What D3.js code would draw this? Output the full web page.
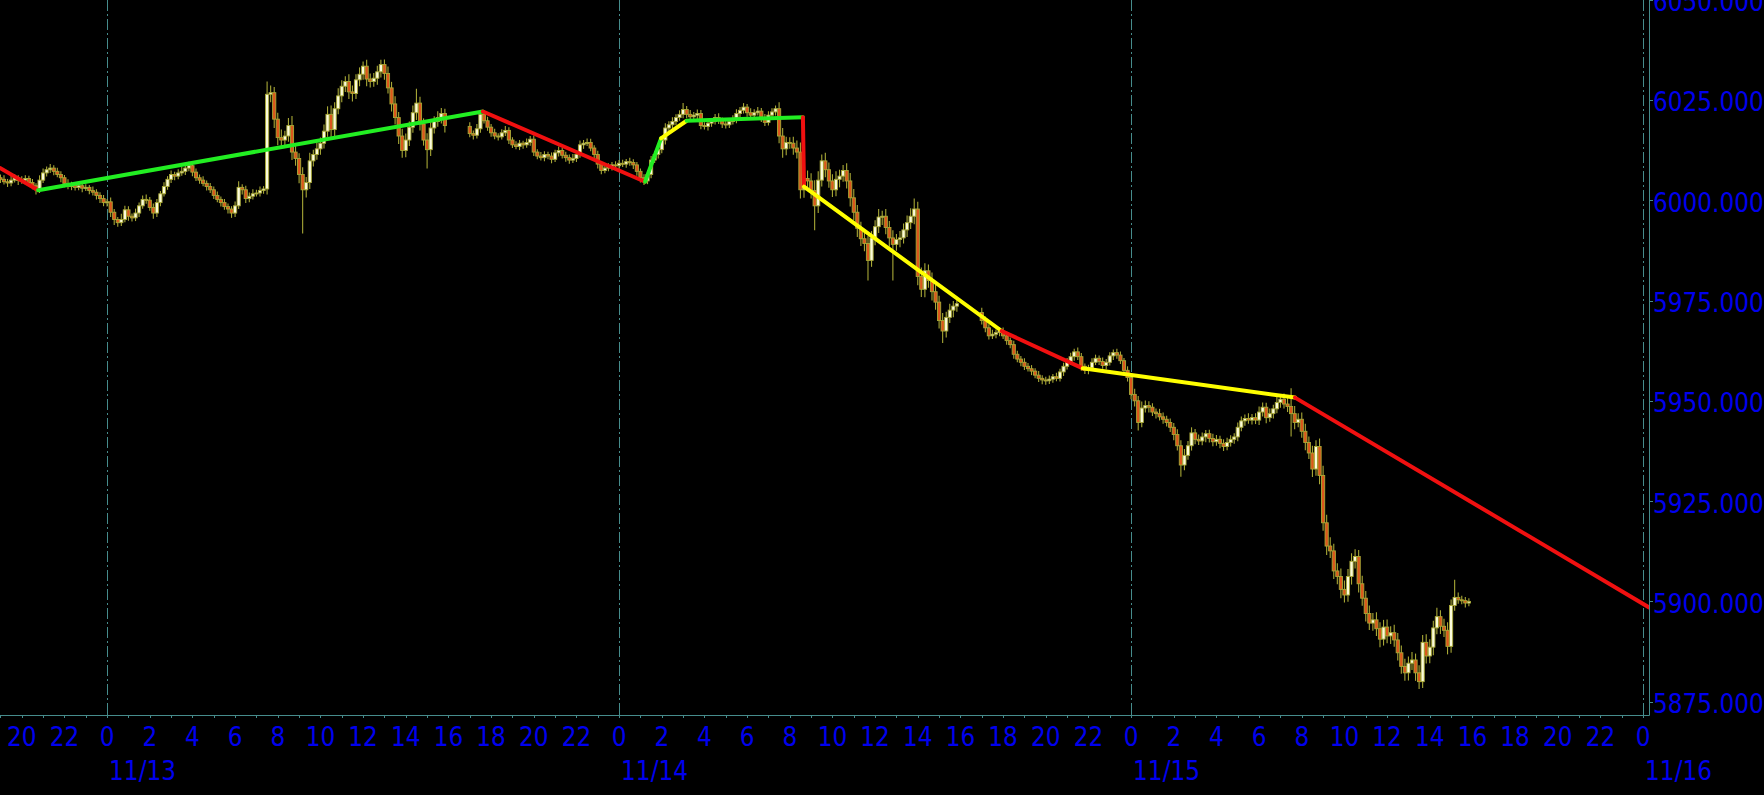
<!DOCTYPE html>
<html><head><meta charset="utf-8">
<script src="https://cdn.jsdelivr.net/npm/d3@7"></script>
<style>html,body{margin:0;padding:0;background:#000;overflow:hidden}</style>
</head><body>
<svg id="c" width="1764" height="795"></svg>
<script>
// ---- DATA ----
const sessionStarts = ["2024-11-12T19:00:00Z", "2024-11-13T17:00:00Z", "2024-11-14T17:00:00Z"];
const sessionFirstOpen = [6005.6, 6018.4, 5972.0];

// 10-minute closes, one row per hour
const close1 = [
6005.2,6004.6,6004.3,6005.0,6005.6,6004.9,
6005.0,6005.4,6004.4,6003.6,6002.6,6005.0,
6006.8,6007.6,6008.0,6007.2,6006.4,6005.6,
6004.2,6003.4,6003.8,6003.2,6003.6,6003.0,
6003.2,6002.4,6002.0,6001.2,6000.4,5999.4,
5999.6,5997.0,5995.2,5994.4,5995.2,5997.6,
5996.0,5995.6,5996.8,5998.6,6000.2,6000.0,
5998.2,5996.8,5999.4,6001.6,6003.4,6005.2,
6006.4,6006.0,6006.8,6007.2,6008.0,6008.6,
6007.0,6005.6,6005.0,6004.2,6003.4,6002.6,
6001.2,6000.2,5999.4,5998.4,5997.8,5996.8,
5998.6,6003.2,6002.6,6000.4,6001.0,6001.6,
6001.8,6002.4,6002.8,6026.4,6026.8,6020.2,
6015.6,6015.0,6016.0,6018.6,6012.0,6010.4,
6006.4,6002.6,6004.4,6009.8,6011.4,6012.8,
6014.2,6017.2,6021.4,6017.6,6022.8,6026.0,
6028.4,6029.6,6027.0,6026.6,6030.0,6031.4,
6033.4,6030.2,6029.6,6030.4,6032.0,6033.8,
6031.6,6028.0,6024.0,6020.6,6016.0,6012.4,
6015.0,6018.2,6021.8,6024.2,6019.0,6015.0,
6012.6,6018.0,6019.6,6020.6,6021.6,6018.6];
const upWick1 = [
.8,1.0,.7,1.1,.9,.6, 1.0,.8,.7,.9,.6,1.2, 1.1,.8,1.0,.7,.9,.8, .7,1.0,.8,.6,.9,.7,
.8,.6,1.0,.7,.8,.9, .7,1.1,.8,.6,1.4,1.0, .9,.7,1.1,.8,1.0,1.2, .8,1.0,.9,.7,1.1,.8,
1.0,.7,.9,1.1,.8,1.0, .7,.9,.8,1.0,.7,.9, .8,1.0,.7,.9,.8,.7, 1.1,1.5,.8,1.0,.9,1.1,
.8,1.0,.7,3.2,1.8,1.4, 1.6,2.0,1.3,1.9,2.4,1.5, 1.3,1.8,1.4,2.0,1.2,1.6,
1.4,1.7,2.0,2.2,1.6,1.9, 1.5,1.3,1.8,1.6,1.4,1.7, 1.2,1.6,1.4,1.3,1.5,1.2,
1.3,1.7,1.5,1.9,1.4,1.8, 1.6,1.4,1.8,3.6,1.6,1.4, 1.7,1.5,1.3,1.6,1.4,1.2];
const downWick1 = [
.9,.7,1.0,.8,.6,1.1, .8,1.0,.7,.9,1.2,.8, .7,.9,.8,1.0,.7,1.1, 1.0,.7,.9,.8,.7,1.0,
.7,.9,.8,1.0,1.1,.9, 1.0,1.2,1.4,1.0,.8,.7, 1.1,.9,.8,1.0,.7,.9, .8,1.4,1.0,.9,.7,.8,
.9,1.0,.8,.7,.9,.8, 1.0,.8,.9,.7,1.0,.8, .9,.7,1.0,.8,1.1,1.2, 1.0,.8,1.2,1.1,.9,.8,
.7,.9,.8,1.4,2.0,2.2, 1.9,2.2,1.6,1.4,2.0,1.8, 2.2,10.9,1.9,1.6,1.4,1.3,
1.5,1.3,1.4,2.0,1.7,1.4, 1.6,1.4,1.8,2.0,1.4,1.6, 1.4,1.8,1.5,1.3,1.6,1.4,
1.6,1.4,1.9,1.7,2.0,1.8, 1.7,1.5,1.4,1.8,1.6,1.4, 4.7,1.6,1.4,1.3,1.5,1.7];

const close2 = [
6016.6,6016.2,6017.8,6021.4,6019.8,6018.2,
6016.8,6016.0,6015.8,6016.8,6017.4,6015.0,
6013.8,6013.4,6014.2,6013.8,6014.4,6015.2,
6012.0,6011.0,6010.6,6011.4,6011.0,6010.2,
6011.8,6012.4,6011.2,6010.6,6010.0,6010.4,
6011.4,6013.8,6014.2,6014.4,6013.0,6011.4,
6009.0,6007.4,6008.0,6008.4,6008.8,6008.6,
6009.2,6009.0,6009.6,6009.4,6008.8,6007.2,
6005.6,6004.8,6006.4,6010.0,6011.4,6012.6,
6015.0,6018.0,6018.8,6019.6,6020.6,6021.4,
6022.6,6021.4,6020.8,6021.2,6021.6,6018.6,
6018.4,6019.2,6019.6,6020.6,6019.8,6019.0,
6018.8,6019.6,6020.2,6021.6,6022.4,6023.2,
6021.8,6021.2,6021.8,6022.2,6020.6,6019.4,
6021.2,6022.0,6022.8,6016.0,6012.8,6014.4,
6014.2,6013.0,6012.0,6002.6,6005.4,6004.8,
6002.4,5998.6,6005.0,6009.8,6007.6,6004.8,
6002.6,6005.2,6006.0,6007.4,6004.8,6000.6,
5997.0,5993.0,5990.4,5989.2,5985.0,5990.6,
5993.4,5995.8,5996.0,5993.2,5990.6,5989.0,
5990.2,5990.6,5992.6,5994.4,5996.0,5997.8,
5981.0,5977.8,5982.4,5980.0,5977.2,5974.6,
5970.0,5967.4,5970.8,5972.6,5973.6,5974.2];
const upWick2 = [
1.0,.8,1.2,1.1,.9,1.0, .8,1.0,.7,.9,1.1,.8, .7,.9,.8,.6,1.0,.8, .9,.7,1.0,.8,.7,.9,
.8,1.0,.7,.9,.8,1.1, .7,1.1,.8,1.0,.9,.7, .9,.7,1.0,.8,.7,.9, .8,.9,.7,1.0,.8,.7,
.7,.9,1.1,1.0,.8,1.2, 1.0,1.2,.9,1.1,.8,1.0, 1.6,.9,1.1,.8,1.0,.9, .8,1.0,.7,.9,1.1,.8,
.9,.7,1.0,1.1,.8,1.0, .8,1.1,.9,1.0,.8,.9, 1.0,.9,.8,1.6,2.0,1.4, 1.3,1.6,1.9,2.4,1.8,2.0,
1.9,2.6,2.2,1.6,2.0,1.8, 1.7,2.0,1.6,1.4,1.8,2.0, 2.2,1.8,1.6,2.0,1.9,1.7,
1.6,2.0,1.4,1.8,1.6,1.9, 1.4,1.7,1.6,1.8,2.0,2.6, 1.8,2.2,1.9,1.6,2.0,1.7,
1.6,1.9,1.4,1.6,1.3,1.5];
const downWick2 = [
.9,1.1,.8,1.0,.7,.9, 1.0,.8,.9,.7,.8,1.0, .8,.7,.9,1.0,.7,.8, 1.0,.8,.7,.9,.8,1.0,
.7,.9,.8,1.0,.9,.7, .9,.8,1.0,.7,.8,.9, 1.1,.9,.7,.8,1.0,.7, .8,.7,.9,.8,1.0,1.1,
1.2,1.0,.8,.9,.7,1.0, .9,1.1,.8,1.0,.9,.8, 1.0,.9,1.1,.8,1.0,.9, .8,1.0,.9,.7,.8,1.0,
.9,.8,.7,1.0,.9,.8, 1.0,.8,.9,.7,1.1,.9, .8,1.0,.9,1.8,2.2,1.6, 1.4,1.7,1.6,2.2,2.0,1.9,
2.0,6.1,1.8,1.6,1.9,1.7, 1.8,1.6,2.0,1.4,1.9,2.2, 2.0,2.2,1.8,1.9,5.0,1.6,
1.8,1.6,2.0,1.7,2.2,9.0, 1.6,1.9,1.4,1.8,1.6,2.0, 2.2,1.9,2.0,1.8,2.2,1.9,
2.0,3.0,1.6,1.4,1.8,1.4];

const close3 = [
5970.0,5968.2,5966.2,5966.6,5967.0,5967.4,
5966.2,5965.0,5964.0,5961.6,5960.4,5959.6,
5958.6,5958.0,5957.4,5956.4,5955.6,5955.2,
5955.0,5955.4,5956.0,5955.6,5957.2,5958.6,
5959.8,5961.0,5962.2,5961.0,5958.6,5957.6,
5958.2,5959.6,5960.6,5959.8,5958.8,5959.6,
5961.2,5962.0,5961.4,5960.0,5957.6,5955.8,
5951.6,5950.0,5944.6,5948.2,5948.8,5948.4,
5947.2,5946.8,5946.0,5945.4,5944.6,5943.4,
5941.6,5938.8,5934.0,5936.4,5938.8,5942.0,
5940.4,5940.0,5941.0,5941.8,5940.6,5939.8,
5940.4,5939.4,5938.6,5939.6,5940.4,5941.0,
5943.4,5945.0,5945.6,5945.2,5945.8,5945.2,
5947.2,5948.4,5945.8,5946.8,5948.0,5949.6,
5950.4,5949.2,5948.6,5946.8,5944.6,5945.4,
5942.4,5939.6,5937.0,5933.0,5938.6,5931.4,
5919.6,5913.8,5912.6,5907.6,5906.2,5903.0,
5901.6,5906.2,5910.0,5911.2,5904.4,5900.8,
5897.0,5894.6,5895.4,5893.2,5890.6,5893.6,
5891.4,5892.2,5890.4,5887.2,5883.8,5882.2,
5884.6,5885.4,5882.2,5880.0,5889.8,5886.4,
5888.6,5893.4,5896.2,5893.8,5892.8,5888.8,
5899.0,5901.0,5900.4,5900.2,5899.6,5900.0];
const upWick3 = [
1.2,1.0,.9,1.1,.8,1.0, .9,1.1,.8,1.0,.9,.8, 1.0,.8,.9,.7,1.0,.8, .8,.9,.7,1.0,.8,.9,
.9,1.0,.8,1.1,.9,.7, .8,1.0,.9,.7,1.0,.8, .9,.8,1.0,.9,.7,1.0, 1.1,1.4,1.2,1.6,1.3,1.1,
1.0,.9,1.2,1.1,.9,1.0, 1.1,1.3,1.4,1.6,1.2,1.4, 1.0,1.2,1.1,.9,1.0,1.2, 1.1,.9,1.0,1.2,1.0,.9,
1.2,1.1,1.0,1.3,.9,1.1, 1.4,1.2,1.1,1.3,1.0,1.5, 1.2,1.4,1.6,4.5,1.9,1.5, 1.7,1.9,1.5,1.8,1.6,2.0,
2.4,2.0,2.2,1.8,1.9,2.0, 2.2,1.9,2.0,1.8,1.6,2.0, 1.8,2.0,1.7,1.9,1.6,1.8,
1.9,1.6,2.0,1.7,1.8,1.9, 1.7,2.0,1.6,1.9,1.8,2.0, 2.0,1.8,2.2,1.6,1.9,2.0,
1.5,4.4,1.2,1.0,.9,.8];
const downWick3 = [
1.0,1.1,.9,.8,1.0,.9, .8,1.0,.9,1.1,.8,1.0, .9,.7,1.0,.8,.9,1.1, 1.0,.8,.9,.7,.8,1.0,
.8,.9,1.0,.8,1.1,.9, 1.0,.8,.7,.9,.8,1.0, .8,1.0,.9,.8,1.1,1.0, 1.2,1.4,2.0,1.2,1.1,1.3,
1.0,1.2,.9,1.1,1.0,1.2, 1.4,1.2,2.9,1.3,1.1,1.2, 1.2,1.0,1.1,1.3,1.0,1.1, 1.0,1.2,1.1,.9,1.0,1.1,
1.1,1.0,1.2,.9,1.1,1.0, 1.2,1.1,1.4,1.0,1.2,1.1, 1.3,1.1,1.4,5.7,1.7,1.2, 1.6,1.9,1.5,2.0,1.7,2.2,
2.0,2.2,1.8,2.0,1.9,2.2, 1.9,1.7,2.0,1.8,2.2,1.9, 2.0,1.7,1.9,1.8,2.0,1.6,
1.8,2.0,1.7,1.9,1.8,2.0, 1.9,1.7,2.0,1.8,1.6,1.9, 1.8,2.0,1.6,1.9,1.7,2.0,
1.6,1.3,1.0,.9,1.1,.8];

// trend indicator pivots
const pivotTimes = ["2024-11-12T19:00Z","2024-11-12T20:46Z","2024-11-13T17:37Z","2024-11-14T01:13Z",
  "2024-11-14T01:58Z","2024-11-14T03:10Z","2024-11-14T08:37Z","2024-11-14T08:40Z",
  "2024-11-14T17:56Z","2024-11-14T21:44Z","2024-11-15T07:41Z","2024-11-16T00:17Z"];
const pivotValues = [6008.0, 6002.5, 6022.1, 6004.6, 6015.4, 6019.8, 6020.7, 6003.4, 5967.4, 5958.1, 5950.8, 5898.5];
const segmentColors = ["red","green","red","green","yellow","green","red","yellow","red","yellow","red"];

const yTickValues = [5875, 5900, 5925, 5950, 5975, 6000, 6025, 6050];
const dayTicks = ["2024-11-13T00:00Z","2024-11-14T00:00Z","2024-11-15T00:00Z","2024-11-16T00:00Z"];
const dayLabels = ["11/13","11/14","11/15","11/16"];

// ---- DRAW ----
const W = 1764, H = 795, plotR = 1649, plotB = 715;
const svg = d3.select("#c");
svg.append("rect").attr("width", W).attr("height", H).attr("fill", "#000");

const x = d3.scaleUtc()
  .domain([new Date("2024-11-13T00:00:00Z"), new Date("2024-11-16T00:00:00Z")])
  .range([107.1, 1643.1]);
const y = d3.scaleLinear().domain([5871.69, 6049.9]).range([plotB, 0]);

const gridCol = "#468c8c";
const textCol = "#0000ee";
const palette = {red: "#f01010", green: "#22ee22", yellow: "#ffff00"};

svg.append("clipPath").attr("id", "plot").append("rect")
  .attr("x", 0).attr("y", 0).attr("width", plotR).attr("height", plotB);
const plot = svg.append("g").attr("clip-path", "url(#plot)");

// day separators
plot.selectAll("line.day").data(dayTicks).join("line")
  .attr("x1", d => Math.round(x(new Date(d))) + 0.5).attr("x2", d => Math.round(x(new Date(d))) + 0.5)
  .attr("y1", 0).attr("y2", plotB)
  .attr("stroke", gridCol).attr("stroke-width", 1).attr("stroke-dasharray", "11,3,2,3");

// candles
const sessions = [
  {start: sessionStarts[0], open: sessionFirstOpen[0], c: close1, uw: upWick1, lw: downWick1},
  {start: sessionStarts[1], open: sessionFirstOpen[1], c: close2, uw: upWick2, lw: downWick2},
  {start: sessionStarts[2], open: sessionFirstOpen[2], c: close3, uw: upWick3, lw: downWick3}
];
const candles = [];
sessions.forEach(s => {
  const t0 = new Date(s.start);
  s.c.forEach((c, i) => {
    const o = i === 0 ? s.open : s.c[i - 1];
    candles.push({t: d3.utcMinute.offset(t0, 10 * i), o, c,
      h: Math.max(o, c) + s.uw[i], l: Math.min(o, c) - s.lw[i]});
  });
});
const wickCol = "#a8a836";
const cg = plot.append("g");
cg.selectAll("line").data(candles).join("line")
  .attr("x1", d => x(d.t)).attr("x2", d => x(d.t))
  .attr("y1", d => y(d.h)).attr("y2", d => y(d.l))
  .attr("stroke", wickCol).attr("stroke-width", 1.1);
cg.selectAll("rect").data(candles).join("rect")
  .attr("x", d => x(d.t) - 1.6).attr("width", 3.2)
  .attr("y", d => y(Math.max(d.o, d.c)))
  .attr("height", d => Math.max(1, y(Math.min(d.o, d.c)) - y(Math.max(d.o, d.c))))
  .attr("fill", d => d.c >= d.o ? "#fbfbdc" : "#dc561c")
  .attr("stroke", wickCol).attr("stroke-width", 0.9);

// trend segments
const pivots = pivotTimes.map((t, i) => ({t: new Date(t), v: pivotValues[i]}));
segmentColors.forEach((col, i) => {
  plot.append("line")
    .attr("x1", x(pivots[i].t)).attr("y1", y(pivots[i].v))
    .attr("x2", x(pivots[i + 1].t)).attr("y2", y(pivots[i + 1].v))
    .attr("stroke", palette[col]).attr("stroke-width", 4).attr("stroke-linecap", "round");
});

// axes lines
svg.append("line").attr("x1", 0).attr("x2", plotR + 0.5).attr("y1", plotB + 0.5).attr("y2", plotB + 0.5)
  .attr("stroke", gridCol);
svg.append("line").attr("x1", plotR + 0.5).attr("x2", plotR + 0.5).attr("y1", 0).attr("y2", plotB + 0.5)
  .attr("stroke", gridCol);

function label(g, px, py, str, anchor) {
  g.append("text").attr("transform", `translate(${px},${py}) scale(0.86,1)`)
    .attr("text-anchor", anchor).attr("font-family", "DejaVu Sans").attr("font-size", 27)
    .attr("fill", textCol).text(str);
}

// x ticks
const hours = d3.utcHour.range(new Date("2024-11-12T18:00Z"), new Date("2024-11-16T01:00Z"))
  .filter(d => x(d) >= 0 && x(d) <= plotR);
const xa = svg.append("g");
hours.forEach(d => {
  const px = Math.round(x(d)) + 0.5;
  const isDay = d.getUTCHours() === 0;
  xa.append("line").attr("x1", px).attr("x2", px)
    .attr("y1", isDay ? plotB - 10 : plotB + 1).attr("y2", plotB + 3)
    .attr("stroke", gridCol);
  if (d.getUTCHours() % 2 === 0 && x(d) <= 1645) label(xa, x(d), 746, String(d.getUTCHours()), "middle");
});
dayTicks.forEach((d, i) => label(xa, x(new Date(d)) + 2, 780, dayLabels[i], "start"));

// y ticks
const ya = svg.append("g");
yTickValues.forEach(v => {
  const py = Math.round(y(v)) + 0.5;
  ya.append("line").attr("x1", plotR).attr("x2", plotR + 4).attr("y1", py).attr("y2", py).attr("stroke", gridCol);
  label(ya, 1653, y(v) + 11.5, d3.format(".3f")(v), "start");
});
</script>
</body></html>
